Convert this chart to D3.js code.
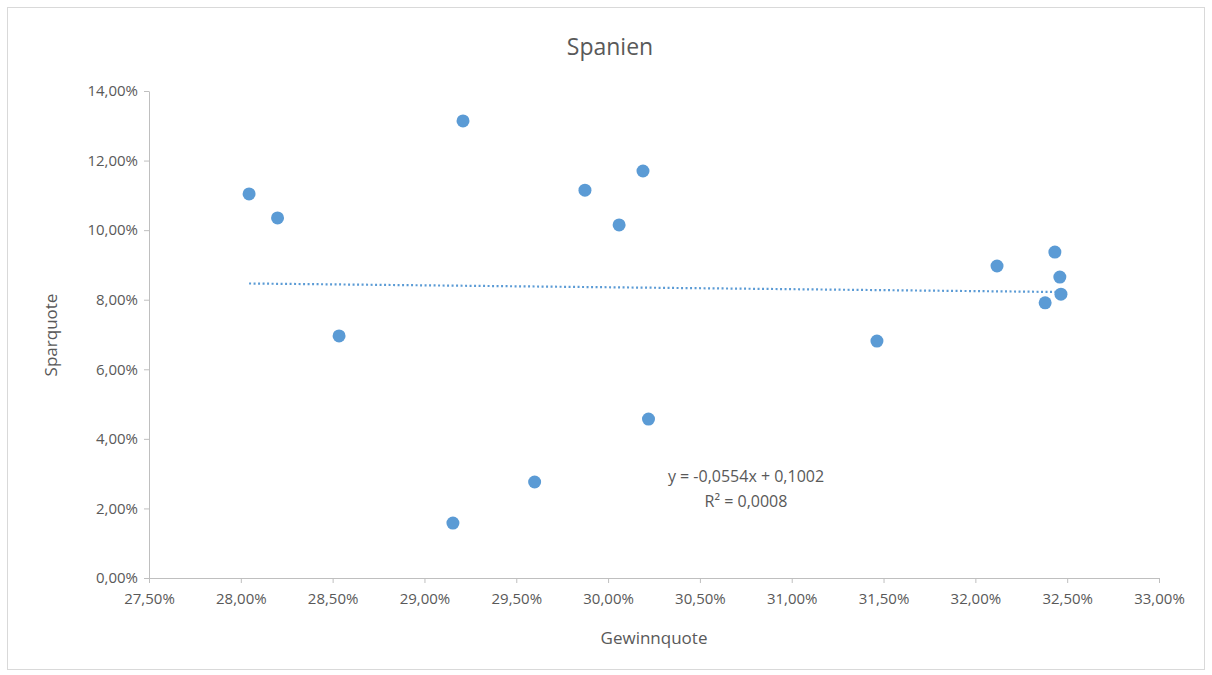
<!DOCTYPE html>
<html><head><meta charset="utf-8">
<script src="https://cdn.jsdelivr.net/npm/d3@7"></script>
<style>body{margin:0;background:#fff}text{font-family:"Open Sans",Calibri,sans-serif;fill:#595959}</style>
</head><body>
<svg id="chart" width="1212" height="675"></svg>
<script>
var gewinnquote = [28.045, 28.20, 28.535, 29.21, 29.155, 29.60, 29.874, 30.06, 30.19, 30.22, 31.464, 32.118, 32.433, 32.46, 32.466, 32.38];
var sparquote = [11.04, 10.35, 6.96, 13.14, 1.58, 2.76, 11.15, 10.15, 11.70, 4.57, 6.81, 8.97, 9.37, 8.65, 8.16, 7.91];
var xTicks = [27.5, 28, 28.5, 29, 29.5, 30, 30.5, 31, 31.5, 32, 32.5, 33];
var yTicks = [0, 2, 4, 6, 8, 10, 12, 14];
var slope = -0.0554, intercept = 0.1002;

var svg = d3.select("#chart");
svg.append("rect").attr("x", 7.5).attr("y", 7.5).attr("width", 1197).attr("height", 662)
  .attr("fill", "#fff").attr("stroke", "#d9d9d9");

var x = d3.scaleLinear().domain([27.5, 33]).range([149, 1159]);
var y = d3.scaleLinear().domain([0, 14]).range([578, 91]);
var fmt = function(v){ return v.toFixed(2).replace(".", ",") + "%"; };

var xAxis = svg.append("g").attr("transform", "translate(0,578)")
  .call(d3.axisBottom(x).tickValues(xTicks).tickFormat(fmt).tickSize(5).tickSizeOuter(0));
var yAxis = svg.append("g").attr("transform", "translate(149,0)")
  .call(d3.axisLeft(y).tickValues(yTicks).tickFormat(fmt).tickSize(5).tickSizeOuter(0));
[xAxis, yAxis].forEach(function(a){
  a.selectAll("path,line").attr("stroke", "#bfbfbf");
  a.selectAll("text").style("font-size", "15px").attr("fill", "#595959");
});
xAxis.selectAll("text").attr("dy", "1.2em");
yAxis.selectAll("text").attr("dx", "-0.2em");

// trendline
var xs = d3.extent(gewinnquote);
svg.append("line")
  .attr("x1", x(xs[0])).attr("y1", y((slope * xs[0] / 100 + intercept) * 100))
  .attr("x2", x(xs[1])).attr("y2", y((slope * xs[1] / 100 + intercept) * 100))
  .attr("stroke", "#5b9bd5").attr("stroke-width", 2.2).attr("stroke-dasharray", "2,2.5");

svg.selectAll("circle.pt").data(gewinnquote).enter().append("circle")
  .attr("class", "pt")
  .attr("cx", function(d){ return x(d); })
  .attr("cy", function(d, i){ return y(sparquote[i]); })
  .attr("r", 6.5).attr("fill", "#5b9bd5");

svg.append("text").attr("x", 610).attr("y", 55).attr("text-anchor", "middle")
  .style("font-size", "23px").text("Spanien");
svg.append("text").attr("x", 654).attr("y", 644).attr("text-anchor", "middle")
  .style("font-size", "17px").text("Gewinnquote");
svg.append("text").attr("transform", "translate(57,335) rotate(-90)").attr("text-anchor", "middle")
  .style("font-size", "17px").text("Sparquote");
svg.append("text").attr("x", 746).attr("y", 482).attr("text-anchor", "middle")
  .style("font-size", "16px").text("y = -0,0554x + 0,1002");
svg.append("text").attr("x", 746).attr("y", 507).attr("text-anchor", "middle")
  .style("font-size", "16px").text("R² = 0,0008");
</script>
</body></html>
